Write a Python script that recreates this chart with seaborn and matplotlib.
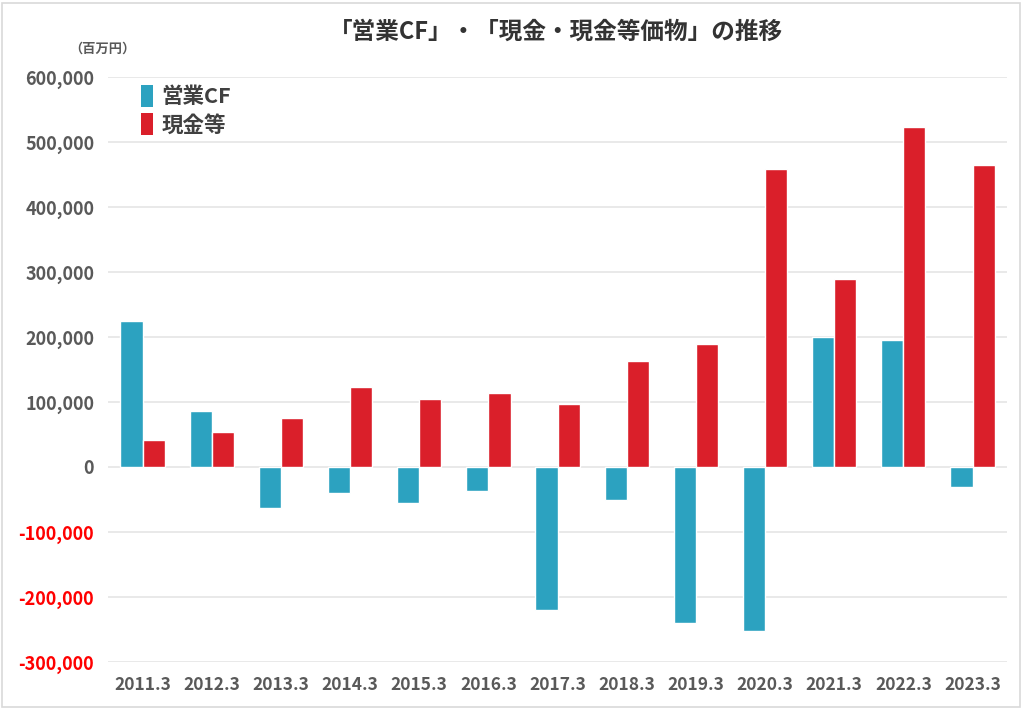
import matplotlib
matplotlib.use("Agg")
import matplotlib.pyplot as plt
import seaborn as sns
import pandas as pd
from matplotlib.patches import Rectangle, Patch

years = ["2011.3", "2012.3", "2013.3", "2014.3", "2015.3", "2016.3", "2017.3",
         "2018.3", "2019.3", "2020.3", "2021.3", "2022.3", "2023.3"]
op_cf = [225000, 86000, -63000, -40000, -55000, -37000, -220000,
         -51000, -240000, -252000, 200000, 195000, -31000]
cash = [41500, 54000, 75000, 123000, 105000, 114000, 97000,
        163000, 189000, 458000, 289000, 523000, 465000]
series_names = ["営業CF", "現金等"]
yticks = [-300000, -200000, -100000, 0, 100000, 200000, 300000, 400000, 500000, 600000]
title = "「営業CF」・「現金・現金等価物」の推移"
unit = "（百万円）"

colors = ["#2CA2C0", "#DA1F2A"]

sns.set_theme(style="white")
plt.rcParams["font.family"] = ["Noto Sans CJK JP", "DejaVu Sans"]

df = pd.DataFrame({
    "year": years * 2,
    "value": op_cf + cash,
    "series": [series_names[0]] * len(years) + [series_names[1]] * len(years),
})

fig = plt.figure(figsize=(10.24, 7.09), dpi=100)
ax = fig.add_axes([0.1055, 0.0663, 0.878, 0.8251])

sns.barplot(data=df, x="year", y="value", hue="series", palette=colors,
            width=0.64, gap=0, ax=ax, legend=False, saturation=1)

ax.set_ylim(-300000, 600000)
ax.set_xlim(-0.5, len(years) - 0.5)
ax.set_yticks(yticks)
ax.set_yticklabels([f"{v:,}" for v in yticks])
for lab, v in zip(ax.get_yticklabels(), yticks):
    lab.set_color("#FF0000" if v < 0 else "#595959")
    lab.set_fontsize(13)
    lab.set_fontweight("bold")
for lab in ax.get_xticklabels():
    lab.set_color("#595959")
    lab.set_fontsize(12.5)
    lab.set_fontweight("bold")
ax.tick_params(axis="y", length=0, pad=10)
ax.tick_params(axis="x", length=0, pad=10)
ax.set_xlabel("")
ax.set_ylabel("")
ax.grid(axis="y", color="#E3E3E3", linewidth=1.1)
ax.set_axisbelow(True)
for s in ax.spines.values():
    s.set_visible(False)

fig.text(0.543, 0.955, title, ha="center", va="center", fontsize=17,
         fontweight="bold", color="#333333")
fig.text(0.068, 0.932, unit, ha="left", va="center", fontsize=9.5,
         fontweight="bold", color="#595959")

handles = [Patch(facecolor=c, edgecolor="none") for c in colors]
leg = ax.legend(handles, series_names, loc="upper left", bbox_to_anchor=(0.015, 1.02),
                frameon=False, fontsize=15.5, handlelength=0.55, handleheight=1.2,
                handletextpad=0.4, labelspacing=0.3)
for t in leg.get_texts():
    t.set_fontweight("bold")
    t.set_color("#404040")

fig.patches.append(Rectangle((0.002, 0.003), 0.994, 0.993, transform=fig.transFigure,
                             fill=False, edgecolor="#D9D9D9", linewidth=1.2))

fig.savefig("out.png", dpi=100, facecolor="white")
